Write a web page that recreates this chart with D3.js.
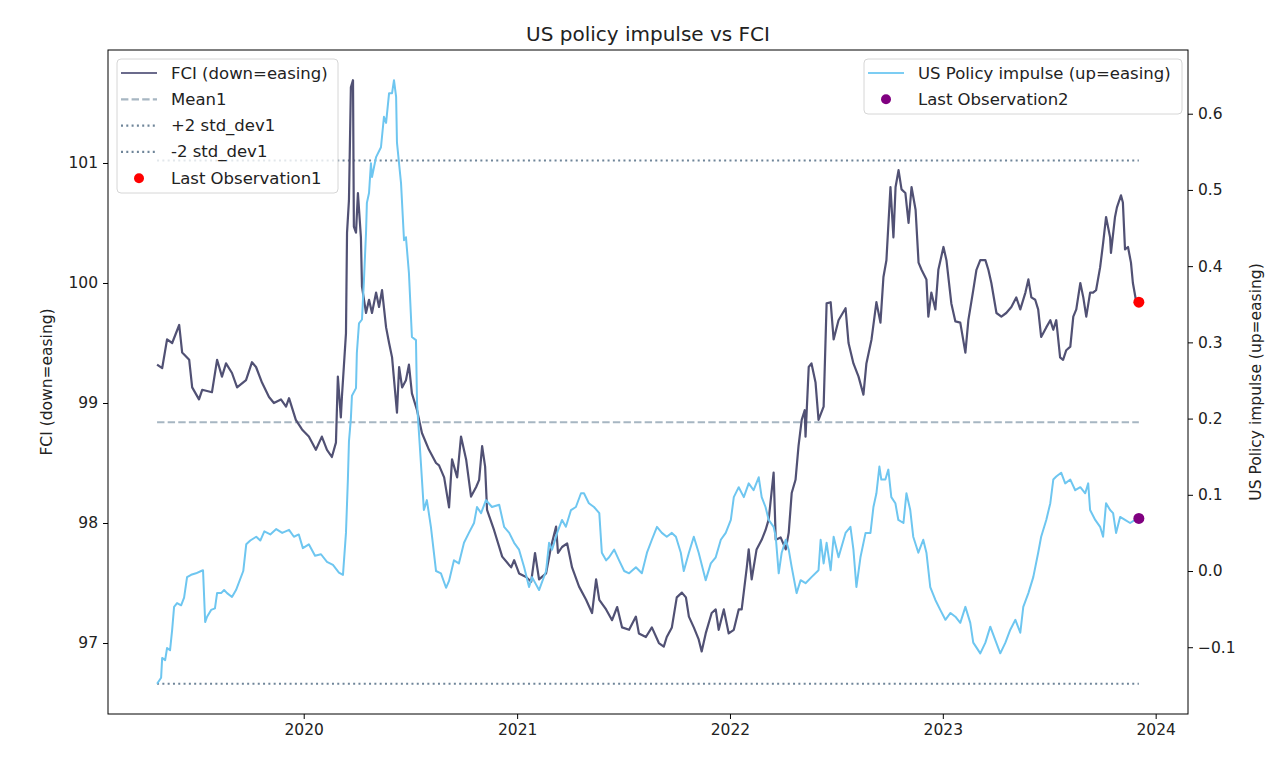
<!DOCTYPE html>
<html><head><meta charset="utf-8">
<script src="https://cdn.jsdelivr.net/npm/d3@7"></script>
<style>body{margin:0;background:#fff} text{font-family:"DejaVu Sans",sans-serif;fill:#222}</style>
</head><body><svg id="c" width="1270" height="774"></svg>
<script>
// ---- data (decimal years) ----
const fciTime = [2019.311,2019.335,2019.358,2019.382,2019.415,2019.429,2019.462,2019.476,2019.508,2019.523,2019.569,2019.593,2019.616,2019.635,2019.663,2019.687,2019.729,2019.757,2019.776,2019.804,2019.837,2019.860,2019.893,2019.917,2019.931,2019.963,2019.992,2020.024,2020.057,2020.085,2020.109,2020.132,2020.151,2020.160,2020.174,2020.179,2020.198,2020.203,2020.212,2020.221,2020.231,2020.235,2020.245,2020.254,2020.268,2020.273,2020.292,2020.306,2020.320,2020.339,2020.353,2020.367,2020.386,2020.400,2020.414,2020.437,2020.447,2020.461,2020.479,2020.493,2020.507,2020.531,2020.554,2020.587,2020.620,2020.634,2020.658,2020.681,2020.695,2020.719,2020.737,2020.761,2020.784,2020.808,2020.822,2020.836,2020.850,2020.859,2020.892,2020.930,2020.972,2020.986,2021.009,2021.042,2021.066,2021.084,2021.103,2021.136,2021.159,2021.183,2021.192,2021.211,2021.235,2021.258,2021.291,2021.324,2021.352,2021.371,2021.386,2021.418,2021.446,2021.470,2021.493,2021.526,2021.558,2021.572,2021.605,2021.633,2021.666,2021.689,2021.703,2021.727,2021.750,2021.774,2021.793,2021.807,2021.830,2021.853,2021.867,2021.886,2021.914,2021.933,2021.947,2021.971,2021.994,2022.018,2022.041,2022.055,2022.079,2022.088,2022.102,2022.125,2022.149,2022.167,2022.182,2022.205,2022.215,2022.238,2022.262,2022.276,2022.290,2022.308,2022.322,2022.337,2022.351,2022.355,2022.370,2022.383,2022.402,2022.416,2022.440,2022.454,2022.473,2022.487,2022.510,2022.543,2022.557,2022.580,2022.604,2022.627,2022.641,2022.665,2022.688,2022.707,2022.721,2022.735,2022.754,2022.768,2022.778,2022.792,2022.806,2022.824,2022.839,2022.853,2022.872,2022.886,2022.900,2022.923,2022.932,2022.946,2022.965,2022.979,2023.003,2023.017,2023.040,2023.059,2023.082,2023.106,2023.120,2023.143,2023.158,2023.176,2023.200,2023.214,2023.228,2023.252,2023.275,2023.298,2023.322,2023.345,2023.364,2023.388,2023.402,2023.416,2023.434,2023.448,2023.462,2023.486,2023.505,2023.519,2023.533,2023.551,2023.565,2023.580,2023.599,2023.613,2023.627,2023.646,2023.660,2023.674,2023.692,2023.706,2023.720,2023.739,2023.753,2023.767,2023.786,2023.790,2023.809,2023.818,2023.837,2023.846,2023.856,2023.870,2023.884,2023.893,2023.907,2023.921];
const fciValues = [99.32,99.29,99.53,99.50,99.65,99.42,99.36,99.13,99.03,99.11,99.09,99.36,99.22,99.33,99.25,99.13,99.19,99.34,99.30,99.17,99.05,99.00,99.03,98.97,99.04,98.86,98.78,98.72,98.61,98.72,98.61,98.55,98.67,99.22,98.88,99.05,99.58,100.42,100.69,101.63,101.69,100.47,100.42,100.75,100.38,99.97,99.75,99.86,99.75,99.92,99.80,99.94,99.63,99.50,99.38,98.92,99.30,99.13,99.19,99.32,99.08,98.94,98.75,98.61,98.50,98.48,98.38,98.13,98.53,98.38,98.72,98.53,98.22,98.30,98.36,98.64,98.47,98.11,97.94,97.72,97.63,97.69,97.58,97.55,97.51,97.75,97.53,97.58,97.80,97.97,97.75,97.80,97.83,97.63,97.47,97.36,97.25,97.53,97.36,97.28,97.19,97.30,97.13,97.11,97.22,97.08,97.05,97.13,97.00,96.97,97.05,97.13,97.38,97.42,97.38,97.22,97.13,97.03,96.93,97.08,97.25,97.28,97.11,97.28,97.08,97.11,97.28,97.28,97.63,97.78,97.53,97.78,97.86,97.94,98.03,98.42,97.86,97.88,97.78,97.92,98.25,98.36,98.64,98.86,98.94,98.72,99.30,99.33,99.17,98.86,98.97,99.83,99.84,99.53,99.69,99.79,99.50,99.33,99.22,99.07,99.33,99.53,99.84,99.67,100.05,100.19,100.80,100.38,100.80,100.94,100.78,100.75,100.50,100.80,100.61,100.17,100.11,100.03,99.72,99.92,99.78,100.11,100.30,100.19,99.83,99.68,99.67,99.42,99.69,99.94,100.11,100.19,100.19,100.11,100.00,99.75,99.72,99.75,99.80,99.88,99.78,99.92,100.03,99.88,99.86,99.78,99.55,99.63,99.69,99.61,99.69,99.38,99.36,99.44,99.47,99.72,99.78,100.00,99.88,99.72,99.92,99.92,99.94,100.13,100.33,100.55,100.38,100.25,100.55,100.63,100.73,100.67,100.28,100.30,100.17,100.00,99.86,99.84];

const impulseTime = [2019.311,2019.330,2019.335,2019.349,2019.358,2019.372,2019.382,2019.391,2019.405,2019.424,2019.438,2019.452,2019.471,2019.494,2019.518,2019.527,2019.537,2019.546,2019.565,2019.583,2019.593,2019.612,2019.626,2019.640,2019.663,2019.682,2019.716,2019.730,2019.749,2019.777,2019.796,2019.815,2019.843,2019.871,2019.899,2019.931,2019.954,2019.977,2019.996,2020.024,2020.053,2020.081,2020.109,2020.137,2020.165,2020.184,2020.198,2020.207,2020.212,2020.221,2020.226,2020.245,2020.249,2020.259,2020.273,2020.282,2020.292,2020.296,2020.306,2020.315,2020.320,2020.339,2020.362,2020.376,2020.386,2020.400,2020.414,2020.423,2020.433,2020.437,2020.456,2020.470,2020.479,2020.493,2020.507,2020.526,2020.531,2020.549,2020.563,2020.577,2020.596,2020.620,2020.643,2020.667,2020.681,2020.704,2020.727,2020.751,2020.774,2020.798,2020.812,2020.831,2020.854,2020.882,2020.916,2020.939,2020.963,2020.986,2021.009,2021.033,2021.056,2021.070,2021.103,2021.136,2021.150,2021.164,2021.188,2021.211,2021.229,2021.253,2021.276,2021.300,2021.314,2021.337,2021.361,2021.386,2021.398,2021.418,2021.432,2021.456,2021.479,2021.503,2021.526,2021.558,2021.586,2021.610,2021.633,2021.657,2021.680,2021.703,2021.727,2021.746,2021.769,2021.783,2021.807,2021.830,2021.853,2021.886,2021.910,2021.933,2021.957,2021.980,2022.004,2022.018,2022.041,2022.065,2022.088,2022.111,2022.135,2022.149,2022.167,2022.182,2022.205,2022.215,2022.229,2022.243,2022.262,2022.276,2022.290,2022.313,2022.332,2022.355,2022.383,2022.416,2022.426,2022.440,2022.454,2022.473,2022.487,2022.510,2022.543,2022.566,2022.580,2022.594,2022.613,2022.637,2022.660,2022.674,2022.688,2022.702,2022.711,2022.730,2022.744,2022.758,2022.777,2022.791,2022.815,2022.829,2022.847,2022.861,2022.885,2022.908,2022.923,2022.941,2022.965,2022.988,2023.012,2023.036,2023.059,2023.082,2023.106,2023.129,2023.143,2023.176,2023.200,2023.223,2023.247,2023.270,2023.294,2023.317,2023.341,2023.364,2023.378,2023.402,2023.425,2023.448,2023.462,2023.486,2023.505,2023.519,2023.533,2023.556,2023.575,2023.599,2023.622,2023.646,2023.669,2023.683,2023.692,2023.716,2023.739,2023.753,2023.767,2023.786,2023.800,2023.814,2023.833,2023.856,2023.880,2023.903,2023.921];
const impulseValues = [-0.148,-0.140,-0.114,-0.117,-0.101,-0.104,-0.077,-0.047,-0.042,-0.045,-0.035,-0.008,-0.005,-0.003,0.000,0.001,-0.067,-0.060,-0.051,-0.049,-0.029,-0.029,-0.025,-0.029,-0.034,-0.025,0.000,0.035,0.040,0.045,0.040,0.052,0.048,0.055,0.050,0.054,0.045,0.048,0.030,0.035,0.020,0.022,0.012,0.008,-0.002,-0.005,0.050,0.120,0.170,0.200,0.230,0.240,0.286,0.325,0.330,0.380,0.444,0.483,0.496,0.535,0.517,0.543,0.556,0.596,0.588,0.627,0.627,0.644,0.622,0.562,0.509,0.434,0.438,0.391,0.307,0.303,0.220,0.142,0.080,0.093,0.058,0.000,-0.003,-0.022,-0.013,0.014,0.010,0.037,0.050,0.063,0.084,0.076,0.093,0.084,0.087,0.058,0.050,0.037,0.028,0.005,-0.021,-0.008,-0.025,0.000,0.037,0.028,0.050,0.067,0.058,0.080,0.084,0.102,0.102,0.089,0.084,0.076,0.024,0.014,0.018,0.028,0.014,0.000,-0.003,0.005,-0.003,0.024,0.041,0.058,0.050,0.045,0.050,0.045,0.024,0.000,0.024,0.045,0.024,-0.012,0.010,0.018,0.041,0.050,0.067,0.097,0.110,0.097,0.115,0.106,0.123,0.097,0.084,0.067,0.058,0.045,-0.003,0.024,0.041,0.028,0.005,-0.029,-0.012,-0.016,-0.008,0.001,0.041,0.010,0.037,0.001,0.045,0.018,0.050,0.058,0.028,-0.021,0.018,0.050,0.050,0.084,0.102,0.137,0.120,0.120,0.133,0.097,0.089,0.067,0.063,0.102,0.080,0.045,0.024,0.041,0.024,-0.021,-0.038,-0.051,-0.064,-0.055,-0.060,-0.068,-0.047,-0.068,-0.094,-0.108,-0.094,-0.073,-0.091,-0.108,-0.094,-0.077,-0.064,-0.081,-0.047,-0.029,-0.008,0.024,0.045,0.067,0.089,0.120,0.124,0.129,0.115,0.120,0.106,0.110,0.102,0.115,0.080,0.067,0.058,0.045,0.089,0.080,0.076,0.050,0.071,0.067,0.063,0.067,0.069];

const fciMean = 98.84;
const fciPlus2Std = 101.02;
const fciMinus2Std = 96.66;

const xTickYears = [2020, 2021, 2022, 2023, 2024];
const leftTicks = [97, 98, 99, 100, 101];
const rightTicks = [-0.1, 0.0, 0.1, 0.2, 0.3, 0.4, 0.5, 0.6];

const titleText = "US policy impulse vs FCI";
const leftLabel = "FCI (down=easing)";
const rightLabel = "US Policy impulse (up=easing)";
const leftLegendLabels = ["FCI (down=easing)", "Mean1", "+2 std_dev1", "-2 std_dev1", "Last Observation1"];
const rightLegendLabels = ["US Policy impulse (up=easing)", "Last Observation2"];

// ---- helpers ----
function toDate(t){
  const y = Math.floor(t);
  const a = new Date(y,0,1), b = new Date(y+1,0,1);
  return new Date(+a + (t-y)*(b-a));
}
const fci = fciTime.map((t,i)=>({d:toDate(t), v:fciValues[i]}));
const imp = impulseTime.map((t,i)=>({d:toDate(t), v:impulseValues[i]}));

const L=108, R=1188, T=50, B=714;
const COL_FCI="#515174", COL_IMP="#6ec6f0", COL_MEAN="#a7b6c2", COL_STD="#6f8599";

function padded(lo,hi){const p=(hi-lo)*0.05;return [lo-p,hi+p];}
const tMin=d3.min(fciTime.concat(impulseTime)), tMax=d3.max(fciTime.concat(impulseTime));
const tDom=padded(tMin,tMax);
const x=d3.scaleTime().domain([toDate(tDom[0]),toDate(tDom[1])]).range([L,R]);
const yL=d3.scaleLinear().domain(padded(Math.min(d3.min(fciValues),fciMinus2Std),Math.max(d3.max(fciValues),fciPlus2Std))).range([B,T]);
const yR=d3.scaleLinear().domain(padded(d3.min(impulseValues),d3.max(impulseValues))).range([B,T]);

const svg=d3.select("#c");
svg.append("rect").attr("width",1270).attr("height",774).attr("fill","#fff");

const plot=svg.append("g");
const x0=x(fci[0].d), x1=x(fci[fci.length-1].d);
// mean and std lines
plot.append("line").attr("x1",x0).attr("x2",x1).attr("y1",yL(fciMean)).attr("y2",yL(fciMean))
  .attr("stroke",COL_MEAN).attr("stroke-width",2).attr("stroke-dasharray","7.4,3.2");
[fciPlus2Std,fciMinus2Std].forEach(v=>{
  plot.append("line").attr("x1",x0).attr("x2",x1).attr("y1",yL(v)).attr("y2",yL(v))
   .attr("stroke",COL_STD).attr("stroke-width",2).attr("stroke-dasharray","2,3.3");
});
// FCI line
plot.append("path").datum(fci).attr("fill","none").attr("stroke",COL_FCI).attr("stroke-width",2.2)
  .attr("stroke-linejoin","round")
  .attr("d",d3.line().x(d=>x(d.d)).y(d=>yL(d.v)));
const lf=fci[fci.length-1];
plot.append("circle").attr("cx",x(lf.d)).attr("cy",yL(lf.v)).attr("r",5.5).attr("fill","red");
// impulse line
plot.append("path").datum(imp).attr("fill","none").attr("stroke",COL_IMP).attr("stroke-width",2)
  .attr("stroke-linejoin","round")
  .attr("d",d3.line().x(d=>x(d.d)).y(d=>yR(d.v)));
const li=imp[imp.length-1];
plot.append("circle").attr("cx",x(li.d)).attr("cy",yR(li.v)).attr("r",5.5).attr("fill","purple");

// frame
svg.append("rect").attr("x",L).attr("y",T).attr("width",R-L).attr("height",B-T)
  .attr("fill","none").attr("stroke","#000").attr("stroke-width",1);

// axes
const fs="15.5px";
const xa=svg.append("g").attr("transform",`translate(0,${B})`)
  .call(d3.axisBottom(x).tickValues(xTickYears.map(y=>new Date(y,0,1))).tickFormat(d3.timeFormat("%Y")).tickSize(5).tickPadding(5));
const ya=svg.append("g").attr("transform",`translate(${L},0)`)
  .call(d3.axisLeft(yL).tickValues(leftTicks).tickFormat(d3.format("d")).tickSize(5).tickPadding(5));
const yb=svg.append("g").attr("transform",`translate(${R},0)`)
  .call(d3.axisRight(yR).tickValues(rightTicks).tickFormat(d=>(d<-1e-9?"\u2212":"")+Math.abs(d).toFixed(1)).tickSize(5).tickPadding(5));
[xa,ya,yb].forEach(g=>{
  g.select(".domain").remove();
  g.selectAll("line").attr("stroke","#000");
  g.selectAll("text").attr("font-family","DejaVu Sans").attr("font-size",fs).attr("fill","#222");
});

// titles
svg.append("text").attr("x",(L+R)/2).attr("y",41).attr("text-anchor","middle").attr("font-size","20px").text(titleText);
svg.append("text").attr("transform",`translate(52,${(T+B)/2}) rotate(-90)`).attr("text-anchor","middle").attr("font-size",fs).text(leftLabel);
svg.append("text").attr("transform",`translate(1261,${(T+B)/2}) rotate(-90)`).attr("text-anchor","middle").attr("font-size",fs).text(rightLabel);

// legends
function legend(bx,by,bw,bh,items){
  const g=svg.append("g");
  g.append("rect").attr("x",bx).attr("y",by).attr("width",bw).attr("height",bh).attr("rx",4)
    .attr("fill","#fff").attr("fill-opacity",0.8).attr("stroke","#d6d6d6");
  items.forEach((it,i)=>{
    const cy=by+14+i*26.3;
    if(it.type==="line"){
      g.append("line").attr("x1",bx+4).attr("x2",bx+40).attr("y1",cy).attr("y2",cy)
        .attr("stroke",it.color).attr("stroke-width",2.2).attr("stroke-dasharray",it.dash||null);
    } else {
      g.append("circle").attr("cx",bx+22).attr("cy",cy).attr("r",5).attr("fill",it.color);
    }
    g.append("text").attr("x",bx+54).attr("y",cy+5.5).attr("font-size","16.5px").text(it.label);
  });
}
legend(117,59,221,134,[
  {type:"line",color:"#6b6b8c",label:leftLegendLabels[0]},
  {type:"line",color:COL_MEAN,dash:"7.4,3.2",label:leftLegendLabels[1]},
  {type:"line",color:COL_STD,dash:"2,3.3",label:leftLegendLabels[2]},
  {type:"line",color:COL_STD,dash:"2,3.3",label:leftLegendLabels[3]},
  {type:"dot",color:"red",label:leftLegendLabels[4]}
]);
legend(864,59,318,55,[
  {type:"line",color:"#7ccdf3",label:rightLegendLabels[0]},
  {type:"dot",color:"purple",label:rightLegendLabels[1]}
]);
</script></body></html>
